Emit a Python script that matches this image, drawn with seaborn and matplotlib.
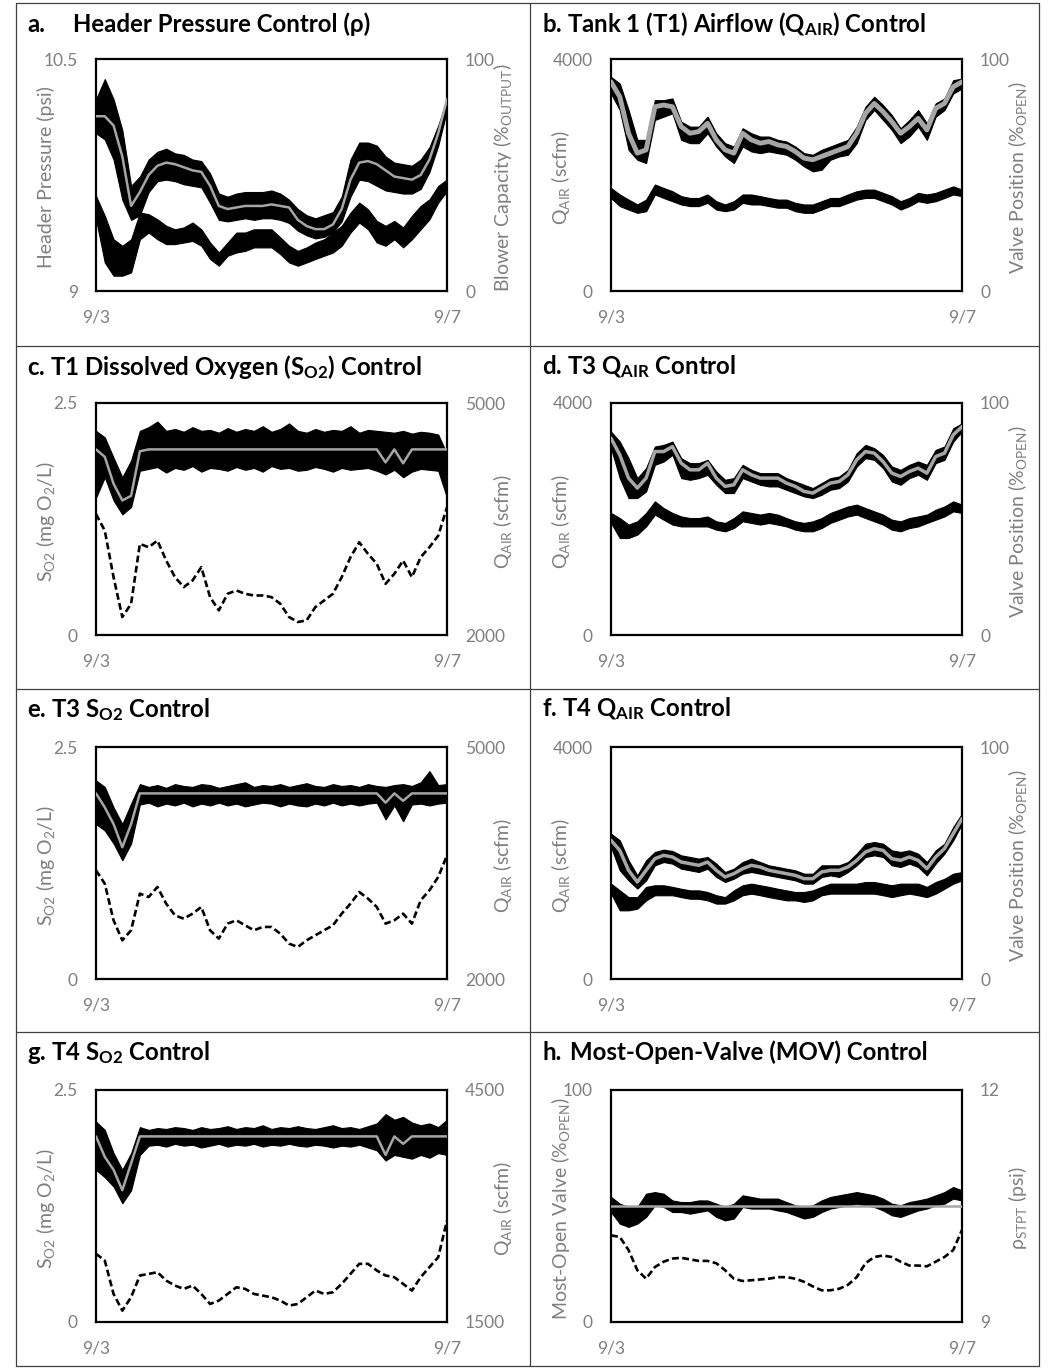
import numpy as np
import matplotlib
matplotlib.use('Agg')
import matplotlib.pyplot as plt
from matplotlib.lines import Line2D
import seaborn as sns


# sample times: days after 9/3, one reading every 0.1 day
days = np.round(np.arange(0, 4.05, 0.1), 1)
x_ticks = [0, 4]
x_tick_labels = ['9/3', '9/7']

# a. header pressure (psi, band + setpoint) and blower capacity (%)
a_pressure_sp = [10.13, 10.13, 10.07, 9.87, 9.55, 9.64, 9.75, 9.81, 9.83, 9.82,
                 9.80, 9.78, 9.77, 9.68, 9.55, 9.53, 9.54, 9.55, 9.55, 9.55,
                 9.56, 9.55, 9.54, 9.46, 9.42, 9.40, 9.40, 9.43, 9.53, 9.72,
                 9.83, 9.84, 9.82, 9.78, 9.74, 9.73, 9.72, 9.75, 9.85, 10.02, 10.24]
a_pressure_hi = [10.24, 10.37, 10.24, 10.04, 9.68, 9.74, 9.85, 9.90, 9.92, 9.89,
                 9.88, 9.85, 9.84, 9.76, 9.63, 9.61, 9.63, 9.64, 9.64, 9.64,
                 9.65, 9.63, 9.59, 9.53, 9.49, 9.47, 9.49, 9.51, 9.61, 9.85,
                 9.96, 9.96, 9.94, 9.87, 9.83, 9.82, 9.81, 9.85, 9.93, 10.07, 10.24]
a_pressure_lo = [10.02, 9.98, 9.85, 9.59, 9.46, 9.49, 9.64, 9.71, 9.72, 9.71,
                 9.69, 9.68, 9.67, 9.57, 9.46, 9.45, 9.46, 9.47, 9.46, 9.47,
                 9.47, 9.46, 9.44, 9.39, 9.36, 9.34, 9.35, 9.38, 9.45, 9.61,
                 9.72, 9.71, 9.68, 9.65, 9.64, 9.63, 9.63, 9.66, 9.77, 9.94, 10.17]
a_blower_hi = [41.0, 32.4, 22.3, 19.5, 22.3, 33.8, 33.1, 30.9, 28.1, 26.6,
               27.4, 29.5, 26.6, 20.9, 16.6, 20.9, 25.2, 25.2, 26.6, 26.6,
               26.6, 23.1, 19.5, 17.3, 18.8, 20.9, 22.3, 25.2, 28.1, 33.8,
               38.1, 35.2, 30.2, 28.1, 30.2, 27.4, 32.4, 36.7, 39.5, 45.3, 48.1]
a_blower_lo = [30.9, 12.3, 6.6, 6.6, 8.0, 22.3, 25.2, 22.3, 20.2, 20.2,
               20.9, 21.6, 19.5, 13.8, 10.9, 15.2, 16.6, 17.3, 18.8, 18.8,
               18.8, 15.9, 12.3, 10.9, 12.3, 13.8, 15.2, 16.6, 19.5, 25.2,
               29.5, 26.6, 20.9, 19.5, 22.3, 18.8, 22.3, 26.6, 30.9, 38.1, 43.1]

# b. tank 1 airflow (scfm) and valve position (%)
b_air_sp = [3606, 3349, 2720, 2377, 2434, 3177, 3206, 3177, 2834, 2720,
            2749, 2891, 2606, 2434, 2377, 2720, 2606, 2549, 2577, 2520,
            2491, 2406, 2291, 2263, 2320, 2377, 2434, 2491, 2720, 3063,
            3234, 3091, 2920, 2720, 2834, 2977, 2777, 3149, 3234, 3520, 3606]
b_air_hi = [3691, 3577, 3120, 2606, 2606, 3291, 3291, 3320, 2920, 2834,
            2834, 3006, 2720, 2549, 2491, 2806, 2720, 2663, 2663, 2606,
            2577, 2491, 2377, 2349, 2434, 2491, 2549, 2606, 2834, 3177,
            3349, 3206, 3034, 2806, 2949, 3120, 2891, 3234, 3320, 3634, 3663]
b_air_lo = [3406, 3120, 2434, 2263, 2206, 2949, 3006, 3063, 2606, 2549,
            2549, 2720, 2491, 2320, 2206, 2491, 2406, 2377, 2406, 2377,
            2349, 2263, 2149, 2063, 2091, 2263, 2320, 2349, 2549, 2949,
            3120, 2949, 2777, 2549, 2663, 2834, 2606, 3006, 3120, 3406, 3491]
b_valve_hi = [44.4, 41.6, 39.4, 37.3, 39.4, 45.9, 44.4, 43.0, 40.9, 40.1,
              40.1, 41.6, 38.7, 37.3, 38.7, 41.6, 41.6, 40.9, 40.1, 39.4,
              39.4, 38.0, 37.3, 37.3, 38.7, 40.1, 40.1, 41.6, 43.0, 43.7,
              43.7, 42.3, 40.9, 38.7, 40.1, 42.3, 41.6, 42.3, 43.7, 45.1, 43.7]
b_valve_lo = [40.1, 36.6, 35.1, 33.7, 34.4, 41.6, 40.1, 38.7, 37.3, 36.6,
              36.6, 38.0, 35.1, 34.4, 35.1, 38.0, 37.3, 37.3, 36.6, 35.9,
              35.9, 34.4, 33.7, 33.7, 35.1, 36.6, 36.6, 38.0, 39.4, 40.1,
              40.1, 38.7, 37.3, 35.1, 36.6, 38.7, 38.0, 38.7, 40.1, 41.6, 40.9]

# c. T1 dissolved oxygen (mg/L) and airflow (scfm)
c_do_sp = [2.00, 1.92, 1.63, 1.45, 1.50, 1.98, 2.00, 2.00, 2.00, 2.00,
           2.00, 2.00, 2.00, 2.00, 2.00, 2.00, 2.00, 2.00, 2.00, 2.00,
           2.00, 2.00, 2.00, 2.00, 2.00, 2.00, 2.00, 2.00, 2.00, 2.00,
           2.00, 2.00, 2.00, 1.86, 2.00, 1.85, 2.00, 2.00, 2.00, 2.00, 2.00]
c_do_hi = [2.20, 2.13, 1.91, 1.70, 1.88, 2.20, 2.24, 2.30, 2.20, 2.22,
           2.19, 2.24, 2.20, 2.21, 2.18, 2.23, 2.19, 2.22, 2.20, 2.25,
           2.19, 2.22, 2.28, 2.20, 2.18, 2.22, 2.19, 2.21, 2.20, 2.25,
           2.18, 2.21, 2.20, 2.19, 2.18, 2.20, 2.17, 2.19, 2.18, 2.16, 1.95]
c_do_lo = [1.48, 1.70, 1.45, 1.30, 1.38, 1.77, 1.79, 1.81, 1.75, 1.80,
           1.78, 1.82, 1.76, 1.80, 1.79, 1.77, 1.81, 1.78, 1.80, 1.76,
           1.82, 1.79, 1.80, 1.77, 1.78, 1.81, 1.79, 1.76, 1.80, 1.78,
           1.79, 1.80, 1.77, 1.73, 1.78, 1.70, 1.76, 1.79, 1.78, 1.77, 1.48]
c_air = [3564, 3350, 2748, 2232, 2404, 3178, 3135, 3221, 2963, 2748,
         2619, 2705, 2877, 2490, 2318, 2533, 2576, 2533, 2511, 2511,
         2490, 2404, 2232, 2168, 2189, 2361, 2447, 2533, 2748, 3006,
         3199, 3049, 2920, 2662, 2791, 2963, 2748, 3006, 3135, 3285, 3650]

# d. T3 airflow (scfm) and valve position (%)
d_air_sp = [3393, 3106, 2705, 2533, 2705, 3163, 3163, 3249, 2963, 2848,
            2848, 2963, 2705, 2562, 2590, 2848, 2762, 2705, 2705, 2705,
            2619, 2562, 2476, 2447, 2533, 2619, 2647, 2762, 3020, 3163,
            3135, 2991, 2791, 2733, 2819, 2877, 2791, 3077, 3135, 3450, 3593]
d_air_hi = [3507, 3335, 3049, 2705, 2877, 3249, 3278, 3335, 3049, 2963,
            2963, 3020, 2819, 2676, 2705, 2934, 2848, 2791, 2791, 2791,
            2705, 2647, 2590, 2533, 2619, 2705, 2733, 2848, 3135, 3278,
            3221, 3106, 2905, 2848, 2934, 2991, 2934, 3192, 3249, 3564, 3650]
d_air_lo = [3221, 2705, 2361, 2361, 2476, 2934, 2991, 3106, 2705, 2676,
            2705, 2762, 2590, 2447, 2447, 2705, 2647, 2590, 2562, 2562,
            2504, 2447, 2390, 2361, 2418, 2504, 2533, 2647, 2905, 3049,
            3020, 2877, 2647, 2590, 2705, 2762, 2676, 2963, 3020, 3335, 3507]
d_valve_hi = [52.6, 50.4, 47.6, 49.0, 52.6, 57.6, 54.7, 52.6, 51.1, 50.4,
              50.4, 51.1, 49.0, 48.3, 50.4, 53.3, 52.6, 51.9, 52.6, 51.9,
              50.4, 49.0, 48.3, 49.0, 50.4, 52.6, 54.0, 55.4, 56.2, 54.7,
              53.3, 51.9, 49.7, 49.0, 50.4, 51.1, 51.9, 54.0, 55.4, 57.6, 56.2]
d_valve_lo = [48.3, 41.8, 41.8, 43.3, 46.8, 51.9, 49.7, 47.6, 46.8, 46.8,
              46.8, 46.8, 45.4, 44.7, 46.1, 49.0, 48.3, 47.6, 48.3, 47.6,
              46.8, 45.4, 44.7, 44.7, 46.1, 48.3, 49.7, 51.1, 51.9, 50.4,
              49.0, 47.6, 45.4, 44.7, 46.1, 46.8, 48.3, 49.7, 51.1, 53.3, 52.6]

# e. T3 dissolved oxygen (mg/L) and airflow (scfm)
e_do_sp = [2.00, 1.85, 1.67, 1.42, 1.67, 2.00, 2.00, 2.00, 2.00, 2.00,
           2.00, 2.00, 2.00, 2.00, 2.00, 2.00, 2.00, 2.00, 2.00, 2.00,
           2.00, 2.00, 2.00, 2.00, 2.00, 2.00, 2.00, 2.00, 2.00, 2.00,
           2.00, 2.00, 2.00, 1.90, 2.00, 1.92, 2.00, 2.00, 2.00, 2.00, 2.00]
e_do_hi = [2.14, 2.07, 1.85, 1.67, 1.89, 2.10, 2.07, 2.09, 2.06, 2.10,
           2.08, 2.07, 2.10, 2.09, 2.06, 2.08, 2.10, 2.12, 2.07, 2.09,
           2.08, 2.10, 2.07, 2.09, 2.11, 2.08, 2.07, 2.10, 2.08, 2.09,
           2.07, 2.10, 2.08, 2.07, 2.09, 2.10, 2.08, 2.12, 2.24, 2.09, 2.10]
e_do_lo = [1.67, 1.60, 1.46, 1.28, 1.46, 1.88, 1.90, 1.86, 1.89, 1.87,
           1.90, 1.86, 1.89, 1.87, 1.90, 1.87, 1.89, 1.86, 1.88, 1.90,
           1.89, 1.86, 1.89, 1.87, 1.86, 1.89, 1.87, 1.90, 1.87, 1.89,
           1.87, 1.89, 1.90, 1.72, 1.87, 1.70, 1.88, 1.89, 1.87, 1.89, 1.90]
e_air = [3405, 3233, 2759, 2500, 2630, 3104, 3060, 3190, 2974, 2823,
         2780, 2845, 2931, 2630, 2522, 2716, 2759, 2694, 2630, 2673,
         2673, 2586, 2457, 2414, 2500, 2565, 2630, 2694, 2845, 2974,
         3125, 3039, 2931, 2716, 2759, 2845, 2716, 3017, 3147, 3319, 3599]

# f. T4 airflow (scfm) and valve position (%)
f_air_sp = [2391, 2218, 1874, 1672, 1874, 2075, 2132, 2104, 2017, 1989,
            1960, 2017, 1874, 1759, 1816, 1902, 1960, 1931, 1874, 1845,
            1816, 1787, 1730, 1730, 1845, 1874, 1874, 1931, 2046, 2190,
            2247, 2218, 2075, 2046, 2104, 2046, 1902, 2104, 2247, 2506, 2764]
f_air_hi = [2506, 2391, 2046, 1787, 2046, 2190, 2230, 2207, 2132, 2104,
            2075, 2104, 1989, 1845, 1902, 2017, 2075, 2017, 1960, 1931,
            1902, 1874, 1816, 1816, 1960, 1960, 1960, 2017, 2161, 2333,
            2362, 2333, 2218, 2190, 2218, 2161, 2017, 2218, 2333, 2621, 2851]
f_air_lo = [2276, 1874, 1701, 1558, 1701, 1960, 2017, 1989, 1902, 1874,
            1845, 1902, 1759, 1672, 1730, 1816, 1845, 1816, 1787, 1759,
            1730, 1701, 1644, 1644, 1759, 1787, 1759, 1845, 1960, 2104,
            2132, 2104, 1960, 1931, 1989, 1931, 1787, 1989, 2161, 2391, 2678]
f_valve_hi = [41.1, 38.2, 35.3, 35.3, 39.7, 40.4, 40.4, 39.7, 38.9, 38.2,
              38.2, 37.5, 36.1, 35.3, 38.2, 40.4, 41.1, 40.4, 39.7, 38.9,
              38.2, 37.5, 37.5, 38.2, 39.7, 41.1, 41.1, 41.1, 41.1, 41.8,
              41.8, 41.1, 40.4, 41.1, 41.1, 41.1, 39.7, 41.8, 43.2, 45.4, 46.1]
f_valve_lo = [36.8, 29.6, 29.6, 30.3, 33.9, 36.1, 36.1, 36.1, 35.3, 34.6,
              34.6, 33.9, 32.5, 32.5, 33.9, 36.1, 36.8, 36.1, 35.3, 34.6,
              33.9, 33.9, 33.2, 33.9, 36.1, 36.8, 36.8, 36.8, 36.8, 36.8,
              36.8, 36.1, 35.3, 36.1, 36.8, 36.1, 35.3, 36.8, 38.9, 41.1, 42.5]

# g. T4 dissolved oxygen (mg/L) and airflow (scfm)
g_do_sp = [2.00, 1.78, 1.64, 1.42, 1.71, 2.00, 2.00, 2.00, 2.00, 2.00,
           2.00, 2.00, 2.00, 2.00, 2.00, 2.00, 2.00, 2.00, 2.00, 2.00,
           2.00, 2.00, 2.00, 2.00, 2.00, 2.00, 2.00, 2.00, 2.00, 2.00,
           2.00, 2.00, 2.00, 1.80, 2.00, 1.92, 2.00, 2.00, 2.00, 2.00, 2.00]
g_do_hi = [2.16, 2.07, 1.82, 1.64, 1.82, 2.10, 2.07, 2.09, 2.08, 2.10,
           2.09, 2.07, 2.10, 2.08, 2.09, 2.11, 2.08, 2.10, 2.09, 2.12,
           2.08, 2.10, 2.09, 2.11, 2.09, 2.08, 2.10, 2.12, 2.09, 2.10,
           2.08, 2.11, 2.14, 2.24, 2.18, 2.21, 2.15, 2.12, 2.14, 2.10, 2.18]
g_do_lo = [1.64, 1.56, 1.46, 1.28, 1.42, 1.80, 1.90, 1.91, 1.89, 1.92,
           1.90, 1.91, 1.88, 1.90, 1.92, 1.89, 1.91, 1.90, 1.92, 1.89,
           1.91, 1.90, 1.92, 1.90, 1.89, 1.91, 1.90, 1.88, 1.90, 1.89,
           1.91, 1.88, 1.85, 1.74, 1.80, 1.78, 1.76, 1.80, 1.77, 1.82, 1.80]
g_air = [2382, 2295, 1863, 1647, 1820, 2101, 2122, 2144, 2036, 1971,
         1928, 1971, 1863, 1733, 1777, 1863, 1949, 1928, 1863, 1841,
         1820, 1777, 1712, 1733, 1820, 1906, 1863, 1885, 1993, 2122,
         2252, 2252, 2166, 2101, 2079, 1993, 1906, 2079, 2209, 2338, 2814]

# h. most-open-valve (%) with 50 % target, and pressure setpoint (psi)
h_mov_target_days = [0, 4]
h_mov_target = [50, 50]
h_mov_hi = [53.9, 51.0, 49.6, 49.6, 55.3, 56.0, 55.3, 52.4, 51.7, 51.7,
            52.4, 52.4, 51.0, 49.6, 51.0, 54.6, 53.9, 53.2, 53.2, 53.2,
            51.7, 50.3, 49.6, 50.3, 52.4, 53.9, 54.6, 55.3, 56.0, 55.3,
            54.6, 53.2, 51.0, 50.3, 51.7, 52.4, 53.2, 54.6, 56.0, 58.2, 56.7]
h_mov_lo = [47.4, 42.4, 41.0, 42.4, 45.3, 50.3, 49.6, 47.4, 47.4, 46.7,
            47.4, 48.1, 45.3, 43.8, 44.6, 49.6, 48.9, 48.9, 48.9, 48.1,
            47.4, 46.0, 44.6, 45.3, 47.4, 48.9, 49.6, 50.3, 51.0, 50.3,
            49.6, 48.1, 46.0, 45.3, 46.7, 48.1, 48.9, 50.3, 51.0, 53.2, 52.4]
h_pressure_sp = [10.12, 10.10, 9.93, 9.67, 9.56, 9.71, 9.78, 9.82, 9.83, 9.81,
                 9.79, 9.79, 9.76, 9.67, 9.56, 9.53, 9.54, 9.55, 9.56, 9.58,
                 9.58, 9.56, 9.52, 9.46, 9.41, 9.41, 9.43, 9.48, 9.58, 9.76,
                 9.84, 9.86, 9.84, 9.78, 9.73, 9.73, 9.72, 9.78, 9.84, 9.93, 10.19]


sns.set_theme(style="white")
plt.rcParams['font.family'] = ['Lato', 'DejaVu Sans']
plt.rcParams['mathtext.default'] = 'regular'

TXT_GRAY = '#7f7f7f'
SP_GRAY = '#a6a6a6'
W, H = 1050, 1368

fig = plt.figure(figsize=(10.5, 13.68), dpi=100)


def make_axes(col, row):
    left = [96, 611][col]
    top = [59, 403, 747, 1090][row]
    ax = fig.add_axes([left / W, 1 - (top + 232) / H, 351 / W, 232 / H])
    ax2 = ax.twinx()
    return ax, ax2


def band(ax, lo, hi):
    ax.fill_between(days, lo, hi, color='black', linewidth=0.8)


def setpoint(ax, y, lw=1.8, x=days):
    sns.lineplot(x=x, y=y, ax=ax, color=SP_GRAY, linewidth=lw, estimator=None, zorder=4)


def dashed(ax, y):
    sns.lineplot(x=days, y=y, ax=ax, color='black', linewidth=1.9,
                 linestyle=(0, (2.6, 1.3)), estimator=None)


def style(ax, ax2, ylim, ylabels, y2lim, y2labels, ylabel, y2label):
    ax.set_xlim(0, 4)
    ax.set_ylim(*ylim)
    ax.set_xticks(x_ticks)
    ax.set_xticklabels(x_tick_labels)
    ax.set_yticks(list(ylim))
    ax.set_yticklabels(ylabels)
    ax2.set_ylim(*y2lim)
    ax2.set_yticks(list(y2lim))
    ax2.set_yticklabels(y2labels)
    for a in (ax, ax2):
        a.tick_params(length=0, pad=13, labelsize=12.5, labelcolor=TXT_GRAY)
        a.grid(False)
    for s in ax.spines.values():
        s.set_visible(True)
        s.set_color('black')
        s.set_linewidth(1.6)
    for s in ax2.spines.values():
        s.set_visible(False)
    ax.set_ylabel(ylabel, fontsize=14, color=TXT_GRAY, va='center')
    ax.yaxis.set_label_coords(-0.143, 0.49)
    ax2.set_ylabel(y2label, fontsize=14, color=TXT_GRAY, va='center', rotation=90)
    ax2.yaxis.set_label_coords(1.158, 0.49)


q_label = 'Q$_{AIR}$ (scfm)'
valve_label = 'Valve Position (%$_{OPEN}$)'
do_label = 'S$_{O2}$ (mg O$_2$/L)'

# a
ax, ax2 = make_axes(0, 0)
band(ax, a_pressure_lo, a_pressure_hi)
setpoint(ax, a_pressure_sp)
band(ax2, a_blower_lo, a_blower_hi)
style(ax, ax2, (9, 10.5), ['9', '10.5'], (0, 100), ['0', '100'],
      'Header Pressure (psi)', 'Blower Capacity (%$_{OUTPUT}$)')

# b
ax, ax2 = make_axes(1, 0)
band(ax, b_air_lo, b_air_hi)
setpoint(ax, b_air_sp, lw=3.5)
band(ax2, b_valve_lo, b_valve_hi)
style(ax, ax2, (0, 4000), ['0', '4000'], (0, 100), ['0', '100'], q_label, valve_label)

# c
ax, ax2 = make_axes(0, 1)
band(ax, c_do_lo, c_do_hi)
setpoint(ax, c_do_sp)
dashed(ax2, c_air)
style(ax, ax2, (0, 2.5), ['0', '2.5'], (2000, 5000), ['2000', '5000'], do_label, q_label)

# d
ax, ax2 = make_axes(1, 1)
band(ax, d_air_lo, d_air_hi)
setpoint(ax, d_air_sp, lw=2.5)
band(ax2, d_valve_lo, d_valve_hi)
style(ax, ax2, (0, 4000), ['0', '4000'], (0, 100), ['0', '100'], q_label, valve_label)

# e
ax, ax2 = make_axes(0, 2)
band(ax, e_do_lo, e_do_hi)
setpoint(ax, e_do_sp)
dashed(ax2, e_air)
style(ax, ax2, (0, 2.5), ['0', '2.5'], (2000, 5000), ['2000', '5000'], do_label, q_label)

# f
ax, ax2 = make_axes(1, 2)
band(ax, f_air_lo, f_air_hi)
setpoint(ax, f_air_sp, lw=2.5)
band(ax2, f_valve_lo, f_valve_hi)
style(ax, ax2, (0, 4000), ['0', '4000'], (0, 100), ['0', '100'], q_label, valve_label)

# g
ax, ax2 = make_axes(0, 3)
band(ax, g_do_lo, g_do_hi)
setpoint(ax, g_do_sp)
dashed(ax2, g_air)
style(ax, ax2, (0, 2.5), ['0', '2.5'], (1500, 4500), ['1500', '4500'], do_label, q_label)

# h
ax, ax2 = make_axes(1, 3)
band(ax, h_mov_lo, h_mov_hi)
setpoint(ax, h_mov_target, x=h_mov_target_days)
dashed(ax2, h_pressure_sp)
style(ax, ax2, (0, 100), ['0', '100'], (9, 12), ['9', '12'],
      'Most-Open Valve (%$_{OPEN}$)', 'ρ$_{STPT}$ (psi)')

# panel titles
title_font = dict(fontsize=17.3, fontweight='bold', color='black', va='baseline')
titles = [
    (27, 32, 'a.'), (73, 32, 'Header Pressure Control (ρ)'),
    (542, 32, 'b. Tank 1 (T1) Airflow (Q$_{AIR}$) Control'),
    (27, 375, 'c. T1 Dissolved Oxygen (S$_{O2}$) Control'),
    (542, 374, 'd. T3 Q$_{AIR}$ Control'),
    (27, 717, 'e. T3 S$_{O2}$ Control'),
    (542, 716, 'f. T4 Q$_{AIR}$ Control'),
    (27, 1060, 'g. T4 S$_{O2}$ Control'),
    (542, 1060, 'h.'), (570, 1060, 'Most-Open-Valve (MOV) Control'),
]
for tx, ty, s in titles:
    fig.text(tx / W, 1 - ty / H, s, **title_font)

# table grid lines around the panels
grid_lines = [
    ((16, 1039), (3, 3)), ((16, 1039), (1366, 1366)),
    ((16, 16), (3, 1366)), ((1039, 1039), (3, 1366)),
    ((529.5, 529.5), (3, 1366)),
    ((16, 1039), (346, 346)), ((16, 1039), (689, 689)), ((16, 1039), (1032, 1032)),
]
for (x0, x1), (y0, y1) in grid_lines:
    fig.add_artist(Line2D([x0 / W, x1 / W], [1 - y0 / H, 1 - y1 / H],
                          color='#404040', linewidth=0.9, transform=fig.transFigure))

fig.savefig('out.png', dpi=100)
